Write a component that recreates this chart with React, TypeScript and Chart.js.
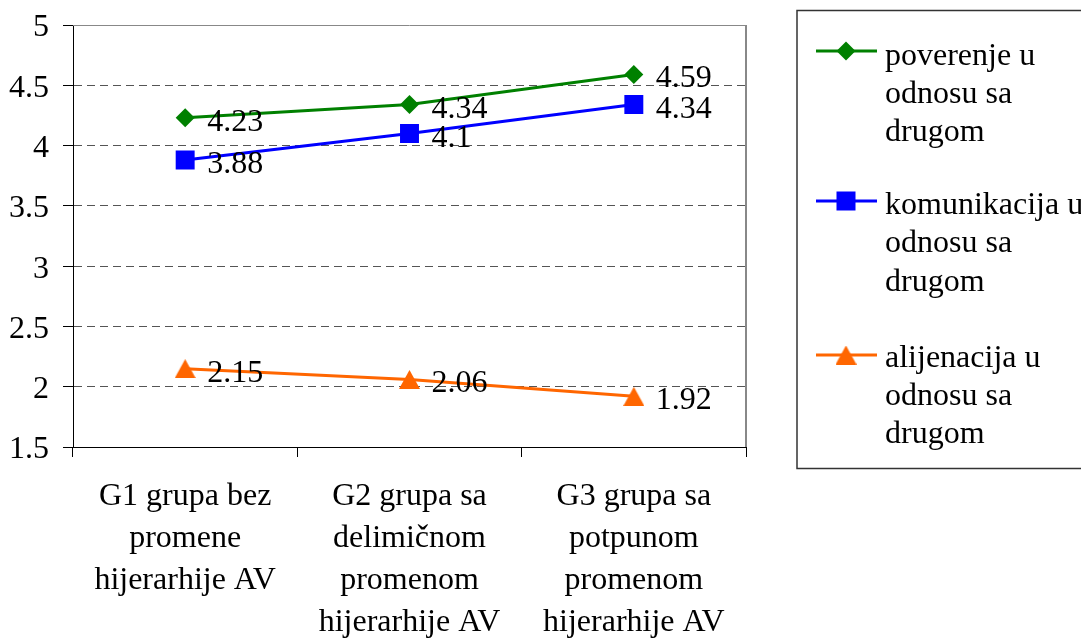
import React, { useEffect, useRef } from "react";
import { Chart, registerables } from "chart.js";

Chart.register(...registerables);

const categories: string[][] = [
  ["G1 grupa bez", "promene", "hijerarhije AV"],
  ["G2 grupa sa", "delimičnom", "promenom", "hijerarhije AV"],
  ["G3 grupa sa", "potpunom", "promenom", "hijerarhije AV"],
];

const seriesLabels: string[][] = [
  ["poverenje u", "odnosu sa", "drugom"],
  ["komunikacija u", "odnosu sa", "drugom"],
  ["alijenacija u", "odnosu sa", "drugom"],
];

const poverenje = [4.23, 4.34, 4.59];
const komunikacija = [3.88, 4.1, 4.34];
const alijenacija = [2.15, 2.06, 1.92];

const seriesColors = ["#008000", "#0000ff", "#ff6600"];

const yMin = 1.5;
const yMax = 5;
const yStep = 0.5;

const FONT = "'Liberation Serif', 'Times New Roman', serif";

function makeTriangle(color: string): HTMLCanvasElement {
  const c = document.createElement("canvas");
  c.width = 21;
  c.height = 19;
  const ctx = c.getContext("2d")!;
  ctx.fillStyle = color;
  ctx.beginPath();
  ctx.moveTo(10.5, 0);
  ctx.lineTo(21, 19);
  ctx.lineTo(0, 19);
  ctx.closePath();
  ctx.fill();
  return c;
}

export default function App() {
  const ref = useRef<HTMLCanvasElement | null>(null);

  useEffect(() => {
    if (!ref.current) return;
    const tri = makeTriangle(seriesColors[2]);

    const frame = {
      id: "frame",
      afterDraw(chart: any) {
        const { ctx, chartArea: a } = chart;
        ctx.save();
        ctx.strokeStyle = "#888";
        ctx.lineWidth = 1;
        ctx.beginPath();
        ctx.moveTo(a.left, Math.round(a.top) + 0.5);
        ctx.lineTo(a.right, Math.round(a.top) + 0.5);
        ctx.stroke();
        ctx.lineWidth = 2;
        ctx.beginPath();
        ctx.moveTo(Math.round(a.right), a.top);
        ctx.lineTo(Math.round(a.right), a.bottom);
        ctx.stroke();
        ctx.restore();
      },
    };

    const dataLabels = {
      id: "dataLabels",
      afterDatasetsDraw(chart: any) {
        const ctx = chart.ctx;
        ctx.save();
        ctx.font = `32px ${FONT}`;
        ctx.fillStyle = "#000";
        ctx.textAlign = "left";
        ctx.textBaseline = "alphabetic";
        chart.data.datasets.forEach((ds: any, di: number) => {
          const meta = chart.getDatasetMeta(di);
          meta.data.forEach((el: any, i: number) => {
            ctx.fillText(String(ds.data[i]), el.x + 22, el.y + 13);
          });
        });
        ctx.restore();
      },
    };

    const legend = {
      id: "customLegend",
      afterDraw(chart: any) {
        const ctx = chart.ctx;
        ctx.save();
        ctx.strokeStyle = "#333";
        ctx.lineWidth = 1.5;
        ctx.strokeRect(797, 10.5, 300, 458);
        const markerY = [51, 201, 355];
        const textY = [
          [65, 103, 141],
          [214, 252, 291],
          [367, 405, 443],
        ];
        for (let k = 0; k < 3; k++) {
          const y = markerY[k];
          const col = seriesColors[k];
          ctx.strokeStyle = col;
          ctx.lineWidth = 3;
          ctx.beginPath();
          ctx.moveTo(816, y);
          ctx.lineTo(877, y);
          ctx.stroke();
          ctx.fillStyle = col;
          const cx = 846;
          if (k === 0) {
            const r = 9.5;
            ctx.beginPath();
            ctx.moveTo(cx - r, y);
            ctx.lineTo(cx, y - r);
            ctx.lineTo(cx + r, y);
            ctx.lineTo(cx, y + r);
            ctx.closePath();
            ctx.fill();
          } else if (k === 1) {
            ctx.fillRect(cx - 9.5, y - 9.5, 19, 19);
          } else {
            ctx.drawImage(tri, cx - 10.5, y - 9.5);
          }
          ctx.fillStyle = "#000";
          ctx.font = `32px ${FONT}`;
          ctx.textAlign = "left";
          ctx.textBaseline = "alphabetic";
          seriesLabels[k].forEach((t, j) => ctx.fillText(t, 885, textY[k][j]));
        }
        ctx.restore();
      },
    };

    const chart = new Chart(ref.current, {
      type: "line",
      data: {
        labels: categories as any,
        datasets: [
          {
            label: seriesLabels[0].join(" "),
            data: poverenje,
            borderColor: seriesColors[0],
            backgroundColor: seriesColors[0],
            borderWidth: 3,
            pointStyle: "rectRot",
            pointRadius: 9.5,
            pointHoverRadius: 9.5,
            pointBorderWidth: 0,
          },
          {
            label: seriesLabels[1].join(" "),
            data: komunikacija,
            borderColor: seriesColors[1],
            backgroundColor: seriesColors[1],
            borderWidth: 3,
            pointStyle: "rect",
            pointRadius: 13.4,
            pointHoverRadius: 13.4,
            pointBorderWidth: 0,
          },
          {
            label: seriesLabels[2].join(" "),
            data: alijenacija,
            borderColor: seriesColors[2],
            backgroundColor: seriesColors[2],
            borderWidth: 3,
            pointStyle: tri as any,
            pointRadius: 10,
            pointHoverRadius: 10,
            pointBorderWidth: 0,
          },
        ],
      },
      options: {
        animation: false,
        responsive: true,
        maintainAspectRatio: false,
        events: [],
        layout: { padding: { top: 25, right: 335, bottom: 0, left: 0 } },
        plugins: {
          legend: { display: false },
          tooltip: { enabled: false },
          title: { display: false },
        },
        scales: {
          x: {
            type: "category",
            offset: true,
            grid: {
              offset: true,
              drawOnChartArea: false,
              drawTicks: true,
              tickLength: 10,
              tickColor: "#000",
              lineWidth: 1,
            },
            border: { color: "#000", width: 1 },
            ticks: {
              color: "#000",
              font: { family: FONT, size: 32, lineHeight: 42 / 32 },
              padding: 19,
              maxRotation: 0,
              minRotation: 0,
              autoSkip: false,
            },
            afterFit(scale: any) {
              scale.height = 192;
              scale.paddingLeft = 0;
              scale.paddingRight = 0;
            },
          },
          y: {
            min: yMin,
            max: yMax,
            grid: {
              color: "#555",
              lineWidth: 1,
              drawTicks: true,
              tickLength: 10,
              tickColor: "#000",
              tickBorderDash: [],
            },
            border: { color: "#000", width: 1, dash: [8, 5] },
            ticks: {
              stepSize: yStep,
              color: "#000",
              font: { family: FONT, size: 32 },
              padding: 14,
              labelOffset: 3,
              callback: (v: any) => String(v),
            },
            afterFit(scale: any) {
              scale.width = 73;
              scale.paddingTop = 0;
              scale.paddingBottom = 0;
            },
          },
        },
      },
      plugins: [frame, dataLabels, legend],
    });

    return () => chart.destroy();
  }, []);

  return (
    <div style={{ position: "absolute", left: 0, top: 0, width: 1081, height: 639, background: "#fff" }}>
      <canvas ref={ref} />
    </div>
  );
}
